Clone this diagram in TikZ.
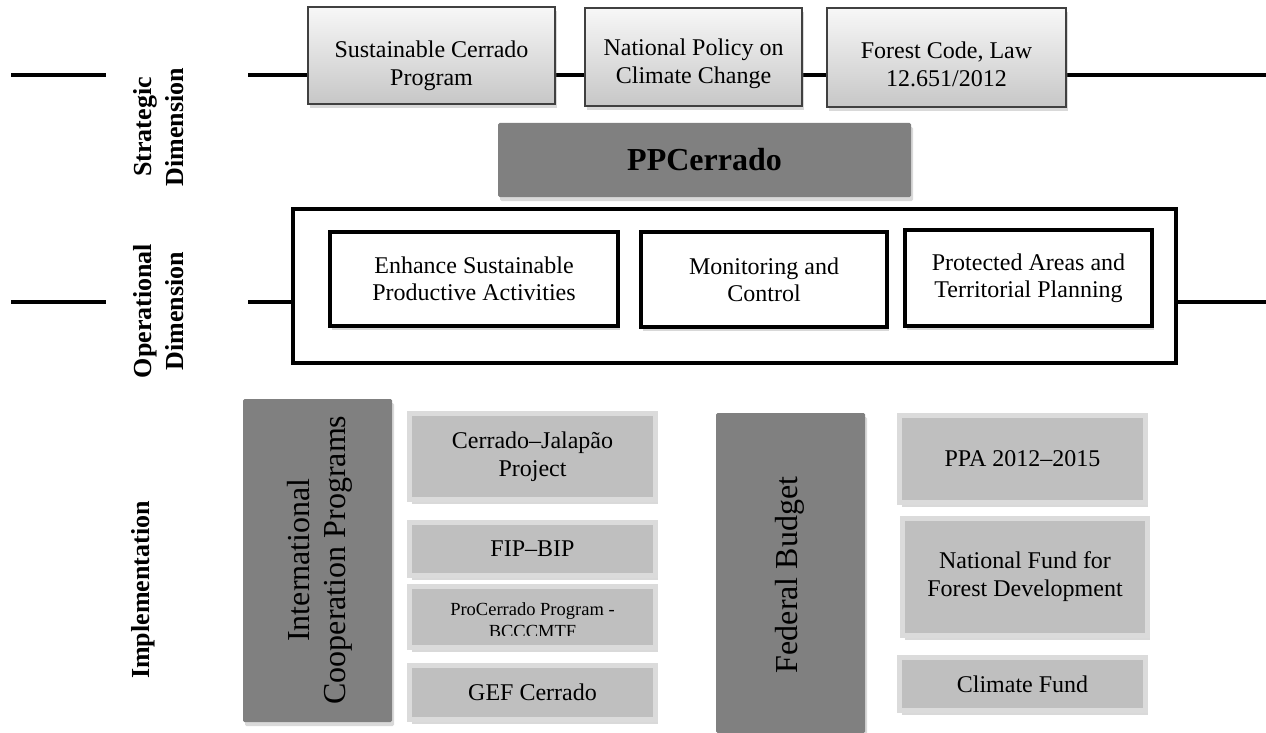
\documentclass[tikz,border=0pt]{standalone}
\usepackage{fontspec}
\setmainfont{Liberation Serif}
\usetikzlibrary{shadows}
\pgfdeclarelayer{background}
\pgfsetlayers{background,main}
\begin{document}
\begin{tikzpicture}[x=1pt,y=-1pt,
  conn/.style={line width=4pt},
  shad/.style={drop shadow={opacity=0.3, shadow xshift=2pt, shadow yshift=-4pt}},
  topbox/.style={draw=black!75, line width=1.5pt, top color=black!3, bottom color=black!22, shad, inner sep=0pt},
  toptext/.style={align=center, font=\fontsize{24}{28}\selectfont},
  darkbox/.style={fill=black!50, draw=none, rounded corners=1.5pt, shad, inner sep=0pt},
  opbox/.style={draw=black, line width=3.5pt, fill=white, shad, inner sep=0pt, align=center, font=\fontsize{24}{27}\selectfont},
  bigbox/.style={draw=black, line width=4pt, fill=white, inner sep=0pt},
  rimbox/.style={fill=black!25, draw=black!14, line width=5pt, shad, inner sep=0pt, align=center, font=\fontsize{24}{28}\selectfont},
  dimlabel/.style={rotate=90, align=center, font=\bfseries\fontsize{26}{32}\selectfont},
  biglabel/.style={rotate=90, align=center, font=\fontsize{32}{36}\selectfont}
]
\useasboundingbox (0,0) rectangle (1266,733);

% labels on the left
\node[dimlabel] (strat) at (159,127) {Strategic\\Dimension};
\node[dimlabel] (oper) at (159,311) {Operational\\Dimension};
\node[dimlabel] (impl) at (143,590) {Implementation};

% strategic row
\node[topbox, minimum width=247pt, minimum height=97pt] (s1) at (431.5,55.5) {};
\node[toptext] (s1t) at (431.5,66) {Sustainable Cerrado\\Program};
\node[topbox, minimum width=217pt, minimum height=98pt] (s2) at (693.5,57) {};
\node[toptext] (s2t) at (693.5,64) {National Policy on\\Climate Change};
\node[topbox, minimum width=239pt, minimum height=99pt] (s3) at (946.5,57.5) {};
\node[toptext] (s3t) at (946.5,64) {Forest Code, Law\\12.651/2012};

\coordinate (a0) at (11,75);
\coordinate (a1) at (106,75);
\coordinate (a2) at (248,75);
\coordinate (a3) at (1266,75);

% PPCerrado
\node[darkbox, minimum width=413pt, minimum height=74pt, font=\bfseries\fontsize{32}{36}\selectfont] (pp) at (704.5,160) {PPCerrado};

% operational
\node[bigbox, minimum width=883pt, minimum height=154pt] (big) at (734.5,286) {};
\node[opbox, minimum width=288pt, minimum height=94pt] (o1) at (474,279) {Enhance Sustainable\\Productive Activities};
\node[opbox, minimum width=246pt, minimum height=95pt] (o2) at (764,279.5) {Monitoring and\\Control};
\node[opbox, minimum width=247pt, minimum height=96pt] (o3) at (1028.5,278) {Protected Areas and\\Territorial Planning};

\coordinate (b0) at (11,302);
\coordinate (b1) at (106,302);
\coordinate (b2) at (248,302);
\coordinate (b3) at (1266,302);

\begin{pgfonlayer}{background}
  \draw[conn] (a0) -- (a1);
  \draw[conn] (a2) -- (a2 -| s1.west);
  \draw[conn] (s1.east |- a2) -- (s2.west |- a2);
  \draw[conn] (s2.east |- a2) -- (s3.west |- a2);
  \draw[conn] (s3.east |- a2) -- (a3);
  \draw[conn] (b0) -- (b1);
  \draw[conn] (b2) -- (b2 -| big.west);
  \draw[conn] (big.east |- b2) -- (b3);
\end{pgfonlayer}

% implementation: international cooperation
\node[darkbox, minimum width=149pt, minimum height=323pt] (intl) at (317.5,560.5) {};
\node[biglabel] (intlt) at (320,560) {International\\Cooperation Programs};
\node[rimbox, minimum width=246pt, minimum height=86pt] (cj) at (532.5,456.5) {Cerrado--Jalapão\\Project};
\node[rimbox, minimum width=246pt, minimum height=53pt] (fip) at (532.5,549) {FIP--BIP};
\node[rimbox, minimum width=246pt, minimum height=61pt] (pro) at (532.5,617) {};
\begin{scope}
  \clip (412,589) rectangle (653,635);
  \node[anchor=base, font=\fontsize{18.5}{22}\selectfont] (prot1) at (532.5,615) {ProCerrado Program -};
  \node[anchor=base, font=\fontsize{18.5}{22}\selectfont] (prot2) at (532.5,637) {BCCCMTF};
\end{scope}
\node[rimbox, minimum width=246pt, minimum height=54pt] (gef) at (532.5,692.5) {GEF Cerrado};

% implementation: federal budget
\node[darkbox, minimum width=149pt, minimum height=320pt] (fed) at (790.5,573) {};
\node[biglabel] (fedt) at (790,575) {Federal Budget};
\node[rimbox, minimum width=246pt, minimum height=87pt] (ppa) at (1022.5,459) {PPA 2012--2015};
\node[rimbox, minimum width=245pt, minimum height=117pt] (nf) at (1025,577) {National Fund for\\Forest Development};
\node[rimbox, minimum width=246pt, minimum height=53pt] (cf) at (1022.5,684) {Climate Fund};
\end{tikzpicture}
\end{document}
